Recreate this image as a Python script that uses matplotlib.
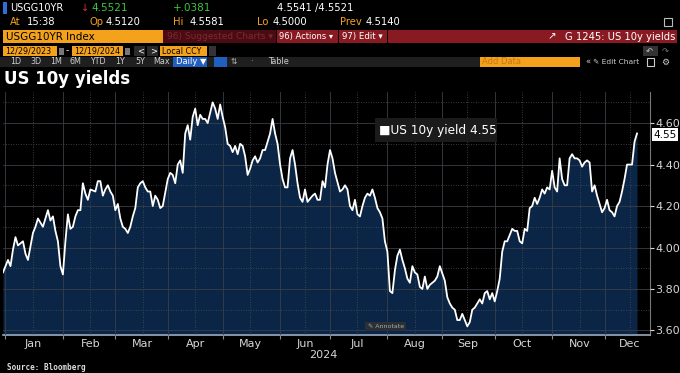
import numpy as np
import matplotlib
matplotlib.use("Agg")
import matplotlib.pyplot as plt
from matplotlib.patches import Rectangle

# US 10y yield, daily closes 12/29/2023 - 12/19/2024
dec23 = [3.88]
jan = [3.94, 3.91, 3.99, 4.05, 4.01, 4.02, 4.03, 3.97, 3.94, 4.07, 4.10, 4.14, 4.12,
       4.10, 4.14, 4.18, 4.13, 4.15, 4.08, 4.03, 3.91]
feb = [3.87, 4.03, 4.16, 4.09, 4.10, 4.15, 4.18, 4.18, 4.31, 4.26, 4.23, 4.28, 4.27,
       4.32, 4.32, 4.25, 4.28, 4.30, 4.27, 4.25]
mar = [4.18, 4.21, 4.14, 4.10, 4.09, 4.07, 4.10, 4.15, 4.19, 4.29, 4.31, 4.32, 4.29,
       4.27, 4.27, 4.20, 4.25, 4.23, 4.19, 4.20]
apr = [4.33, 4.36, 4.35, 4.31, 4.40, 4.42, 4.36, 4.55, 4.59, 4.52, 4.63, 4.67, 4.59,
       4.64, 4.62, 4.62, 4.60, 4.65, 4.70, 4.67, 4.62, 4.69]
may = [4.63, 4.58, 4.50, 4.49, 4.46, 4.49, 4.45, 4.50, 4.49, 4.44, 4.35, 4.38, 4.42,
       4.44, 4.41, 4.43, 4.47, 4.47, 4.55, 4.62, 4.55, 4.50]
jun = [4.40, 4.33, 4.29, 4.29, 4.43, 4.47, 4.40, 4.31, 4.24, 4.22, 4.28, 4.22, 4.25,
       4.26, 4.23, 4.23, 4.32, 4.29, 4.40]
jul = [4.47, 4.43, 4.36, 4.27, 4.28, 4.30, 4.28, 4.20, 4.18, 4.23, 4.16, 4.15, 4.20,
       4.24, 4.26, 4.25, 4.28, 4.24, 4.19, 4.17, 4.14, 4.03]
aug = [3.98, 3.79, 3.78, 3.89, 3.96, 3.99, 3.94, 3.90, 3.85, 3.83, 3.91, 3.88, 3.87,
       3.81, 3.80, 3.86, 3.80, 3.82, 3.83, 3.84, 3.86, 3.91]
sep = [3.84, 3.76, 3.73, 3.71, 3.70, 3.65, 3.65, 3.68, 3.65, 3.62, 3.64, 3.70, 3.71,
       3.73, 3.75, 3.73, 3.78, 3.79, 3.75, 3.78]
oct_ = [3.74, 3.79, 3.85, 3.98, 4.03, 4.03, 4.06, 4.09, 4.08, 4.08, 4.03, 4.02, 4.09,
        4.08, 4.19, 4.20, 4.24, 4.21, 4.24, 4.28, 4.26, 4.29, 4.28]
nov = [4.37, 4.29, 4.27, 4.43, 4.33, 4.30, 4.30, 4.43, 4.45, 4.43, 4.43, 4.42, 4.39,
       4.41, 4.42, 4.41, 4.27, 4.30, 4.25, 4.17]
dec = [4.19, 4.23, 4.18, 4.17, 4.15, 4.20, 4.22, 4.27, 4.33, 4.40, 4.40, 4.40, 4.51, 4.55]

holidays = ['2024-01-01', '2024-01-15', '2024-02-19', '2024-03-29', '2024-05-27',
            '2024-06-19', '2024-07-04', '2024-09-02', '2024-11-28']
month_names = ['Jan', 'Feb', 'Mar', 'Apr', 'May', 'Jun', 'Jul', 'Aug', 'Sep', 'Oct', 'Nov', 'Dec']

values = np.array(dec23 + jan + feb + mar + apr + may + jun + jul + aug + sep + oct_ + nov + dec)
days = np.arange('2023-12-29', '2024-12-20', dtype='datetime64[D]')
days = days[np.is_busday(days, holidays=holidays)]
assert len(days) == len(values)

start = np.datetime64('2023-12-29')
x = np.busday_count(start, days)
month_starts = np.busday_count(start, np.array([f'2024-{m:02d}-01' for m in range(1, 13)], dtype='datetime64[D]'))
month_mids = np.busday_count(start, np.array([f'2024-{m:02d}-16' for m in range(1, 13)], dtype='datetime64[D]'))

W, H = 680, 373
fig = plt.figure(figsize=(W / 100, H / 100), dpi=100, facecolor='black')

ORANGE = '#f4a21c'
RED = '#8a1a22'


def box(x0, y0, x1, y1, color, **kw):
    fig.add_artist(Rectangle((x0 / W, 1 - y1 / H), (x1 - x0) / W, (y1 - y0) / H,
                             transform=fig.transFigure, facecolor=color, edgecolor='none', **kw))


def txt(xp, yp, s, color='white', size=7.5, **kw):
    kw.setdefault('va', 'center')
    fig.text(xp / W, 1 - yp / H, s, color=color, fontsize=size, **kw)


# header row 1
box(3, 2, 7, 14, '#2f6fd6')
txt(10, 8, 'USGG10YR', size=7)
txt(81, 8, '↓', '#e03030', 7)
txt(91, 8, '4.5521', '#3ec43e', 7.5)
txt(173, 8, '+.0381', '#3ec43e', 7.5)
txt(277, 8, '4.5541 /4.5521', size=7.2)
# header row 2
for xl, lab, xv, val in [(10, 'At', 27, '15:38'), (90, 'Op', 106, '4.5120'),
                         (173, 'Hi', 190, '4.5581'), (257, 'Lo', 273, '4.5000'),
                         (340, 'Prev', 366, '4.5140')]:
    txt(xl, 22, lab, ORANGE, 7.2)
    txt(xv, 22, val, size=7.2)
fig.add_artist(Rectangle((664 / W, 1 - 26 / H), 8 / W, 8 / H, transform=fig.transFigure,
                         facecolor='none', edgecolor='#bbbbbb', lw=0.8))
# header row 3
box(3, 30, 163, 43, ORANGE)
txt(6, 36.5, 'USGG10YR Index', 'black', 7.5)
box(163, 30, 276, 43, '#4a0c12')
txt(167, 36.5, '96) Suggested Charts ▾', '#7c2a30', 6.5)
box(277, 30, 338, 43, RED)
txt(279, 36.5, '96) Actions ▾', 'white', 6)
box(339, 30, 387, 43, RED)
txt(342, 36.5, '97) Edit ▾', 'white', 6.2)
box(388, 30, 677, 43, RED)
txt(675, 36.5, 'G 1245: US 10y yields', 'white', 7.2, ha='right')
txt(548, 36.5, '↗', 'white', 7.5)
# header row 4
box(3, 46, 57, 56, ORANGE)
txt(5, 51, '12/29/2023', 'black', 5.8)
box(59, 48, 64, 55, '#777777')
txt(66, 51, '-', 'white', 6.5)
box(72, 46, 123, 56, ORANGE)
txt(74, 51, '12/19/2024', 'black', 5.8)
box(125, 48, 130, 55, '#777777')
box(134, 46, 145, 56, '#2a2a2a')
txt(137, 51, '<', 'white', 6)
box(147, 46, 158, 56, '#2a2a2a')
txt(150, 51, '>', 'white', 6)
box(160, 46, 207, 56, ORANGE)
txt(162, 51, 'Local CCY', 'black', 5.8)
box(209, 46, 216, 56, '#333333')
box(643, 46, 658, 56, '#333333')
txt(646, 51, '↶', '#cccccc', 6)
txt(662, 51, '↷', '#777777', 6)
# header row 5
box(0, 57, 480, 67, '#1f1f1f')
for xp, s in [(10, '1D'), (30, '3D'), (50, '1M'), (70, '6M'), (90, 'YTD'),
              (115, '1Y'), (135, '5Y'), (153, 'Max'), (268, 'Table')]:
    txt(xp, 62, s, '#cfcfcf', 5.8)
box(173, 57, 207, 67, '#1f5fbf')
txt(176, 62, 'Daily ▼', 'white', 6)
box(214, 57, 227, 67, '#1f5fbf')
txt(231, 62, '⇅', '#bbbbbb', 5.5)
txt(250, 62, '·', '#bbbbbb', 6)
box(480, 57, 580, 67, ORANGE)
txt(482, 62, 'Add Data', '#c47a12', 6)
txt(585, 62, '«', '#cccccc', 6)
txt(593, 62, '✎ Edit Chart', '#cccccc', 5.4)
fig.add_artist(Rectangle((647 / W, 1 - 65.5 / H), 7 / W, 7 / H, transform=fig.transFigure,
                         facecolor='none', edgecolor='#cccccc', lw=0.8))
txt(661, 62, '⚙', '#cccccc', 6.5)

# title
txt(4, 79, 'US 10y yields', 'white', 12, fontweight='bold')

# chart
ax = fig.add_axes([3 / W, 1 - 335 / H, 647 / W, 243 / H], facecolor='black')
ax.fill_between(x, values, 3.0, color='#0a2546', lw=0, zorder=1)
ax.plot(x, values, color='white', lw=1.3, zorder=3)
ax.set_ylim(3.578, 4.75)
ax.set_xlim(0, x[-1] + 5.2)

ax.yaxis.tick_right()
ax.set_yticks(np.arange(3.6, 4.61, 0.2))
ax.set_yticklabels([f'{v:.2f}' for v in np.arange(3.6, 4.61, 0.2)])
ax.set_yticks(np.arange(3.7, 4.71, 0.2), minor=True)
ax.set_xticks(month_starts)
ax.set_xticklabels([])
ax.set_xticks(month_mids, minor=True)
ax.set_xticklabels(month_names, minor=True)

ax.tick_params(axis='y', which='major', colors='#d6d6d6', length=3, labelsize=8, pad=1)
ax.tick_params(axis='y', which='minor', length=0)
ax.tick_params(axis='x', which='major', color='#888888', length=3)
ax.tick_params(axis='x', which='minor', length=0, colors='#d6d6d6', labelsize=8, pad=3)

ax.set_axisbelow(False)
ax.grid(which='major', color='#3a3f46', lw=0.6, ls='-')
ax.grid(which='minor', color='#4a4f56', lw=0.6, ls=(0, (1, 2)))
for g in ax.get_xgridlines() + ax.get_ygridlines():
    g.set_zorder(2)

for s in ['top', 'left']:
    ax.spines[s].set_visible(False)
ax.spines['right'].set_color('#777777')
ax.spines['bottom'].set_color('#9aa8bc')
ax.spines['bottom'].set_linewidth(1.2)

# legend box
box(375, 118, 497, 142, '#1b1b1b')
txt(379, 130.5, '■US 10y yield 4.55', 'white', 8.7)
# last value tag
fig.text(653 / W, 1 - 134.5 / H, f'{values[-1]:.2f}', color='black', fontsize=7.5, va='center',
         bbox=dict(boxstyle='square,pad=0.12', facecolor='white', edgecolor='none'))
# annotate button
box(365, 322, 406, 331, '#2b2f36')
txt(368, 326.5, '✎ Annotate', '#aaaaaa', 4.5)

txt(338, 355, '2024', '#d6d6d6', 8, ha='right')
txt(7, 367, 'Source: Bloomberg', '#dddddd', 5.5, fontweight='bold', family='DejaVu Sans Mono')

fig.savefig('out.png', dpi=100, facecolor='black')
